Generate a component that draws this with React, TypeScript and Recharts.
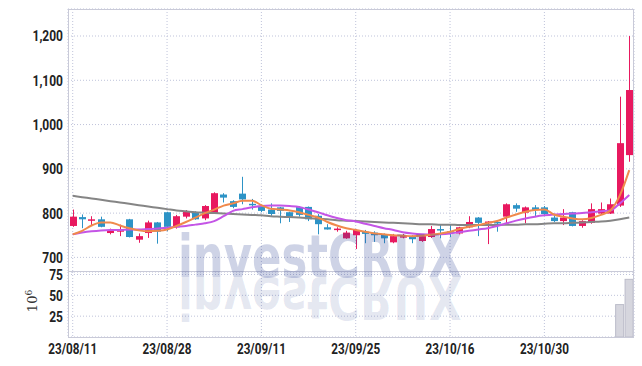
import React from "react";
import { ComposedChart, Bar, Line, XAxis, YAxis, CartesianGrid } from "recharts";

const dates = [
  "23/08/11", "23/08/14", "23/08/16", "23/08/17", "23/08/18", "23/08/21", "23/08/22", "23/08/23", "23/08/24", "23/08/25",
  "23/08/28", "23/08/29", "23/08/30", "23/08/31", "23/09/01", "23/09/04", "23/09/05", "23/09/06", "23/09/07", "23/09/08",
  "23/09/11", "23/09/12", "23/09/13", "23/09/14", "23/09/15", "23/09/18", "23/09/19", "23/09/20", "23/09/21", "23/09/22",
  "23/09/25", "23/09/26", "23/09/27", "23/10/04", "23/10/05", "23/10/06", "23/10/10", "23/10/11", "23/10/12", "23/10/13",
  "23/10/16", "23/10/17", "23/10/18", "23/10/19", "23/10/20", "23/10/23", "23/10/24", "23/10/25", "23/10/26", "23/10/27",
  "23/10/30", "23/10/31", "23/11/01", "23/11/02", "23/11/03", "23/11/06", "23/11/07", "23/11/08", "23/11/09", "23/11/10",
];

const opens = [
  771, 791, 783, 786, 755, 758, 786, 740, 755, 779,
  802, 768, 792, 802, 788, 800, 842, 827, 844, 821,
  814, 808, 813, 802, 814, 814, 794, 768, 763, 743,
  750, 758, 756, 752, 734, 745, 746, 737, 746, 764,
  759, 754, 768, 790, 777, 780, 792, 818, 801, 813,
  813, 790, 782, 802, 771, 778, 799, 799, 817, 931,
];
const highs = [
  808, 797, 793, 792, 765, 774, 787, 754, 783, 780,
  803, 796, 807, 804, 818, 847, 845, 829, 882, 832,
  818, 822, 814, 803, 816, 815, 798, 775, 768, 760,
  763, 762, 759, 754, 753, 753, 750, 750, 771, 773,
  773, 769, 793, 791, 782, 784, 822, 822, 815, 818,
  816, 795, 809, 803, 784, 822, 824, 833, 1063, 1200,
];
const lows = [
  769, 766, 771, 768, 752, 748, 745, 733, 744, 731,
  759, 765, 788, 785, 784, 798, 824, 811, 820, 808,
  802, 794, 777, 780, 792, 782, 752, 763, 758, 742,
  719, 732, 735, 732, 732, 743, 732, 735, 744, 743,
  746, 752, 766, 748, 730, 758, 777, 803, 777, 792,
  795, 780, 773, 770, 767, 776, 798, 798, 814, 916,
];
const closes = [
  792, 786, 786, 769, 760, 764, 746, 748, 779, 758,
  769, 793, 803, 786, 816, 845, 835, 814, 831, 820,
  805, 798, 805, 792, 796, 786, 775, 763, 765, 756,
  762, 753, 750, 743, 748, 748, 741, 748, 764, 763,
  756, 768, 780, 778, 781, 777, 820, 810, 813, 807,
  798, 782, 790, 771, 782, 809, 809, 820, 958, 1078,
];

const ma5 = [
  752, 760, 772, 779, 779, 772, 766, 761, 759, 760,
  763, 771, 780, 790, 800, 808, 817, 822, 828, 828,
  818, 810, 808, 806, 802, 796, 790, 780, 772, 766,
  762, 758, 754, 752, 750, 749, 748, 749, 751, 754,
  758, 764, 769, 773, 778, 782, 790, 797, 803, 807,
  808, 797, 792, 788, 786, 789, 796, 806, 840, 897,
];
const ma20 = [
  752, 756, 759, 761, 762, 762, 763, 763, 764, 765,
  767, 769, 771, 774, 777, 782, 793, 805, 809, 813,
  816, 817, 817, 816, 814, 808, 802, 795, 789, 784,
  781, 776, 771, 766, 762, 757, 754, 752, 751, 752,
  754, 757, 760, 763, 766, 771, 777, 783, 788, 792,
  795, 797, 798, 799, 800, 802, 804, 806, 822, 841,
];
const ma60 = [
  839, 836, 833, 830, 827, 824, 821, 818, 815, 812,
  809, 806, 804, 802, 801, 800, 799, 798, 797, 796,
  795, 793, 792, 791, 790, 789, 787, 786, 784, 783,
  782, 781, 780, 779, 778, 777, 776, 775, 775, 774,
  774, 773, 773, 773, 773, 773, 774, 774, 775, 775,
  776, 777, 777, 778, 779, 780, 781, 783, 786, 790,
];
// millions of shares
const volumes = [
  0.3, 0.3, 0.2, 0.3, 0.2, 0.2, 0.3, 0.2, 0.3, 0.2,
  0.3, 0.3, 0.3, 0.2, 0.4, 0.5, 0.4, 0.3, 0.5, 0.3,
  0.2, 0.2, 0.3, 0.2, 0.2, 0.2, 0.3, 0.2, 0.1, 0.2,
  0.2, 0.2, 0.2, 0.2, 0.2, 0.1, 0.2, 0.2, 0.2, 0.2,
  0.2, 0.2, 0.3, 0.2, 0.2, 0.2, 0.4, 0.2, 0.2, 0.2,
  0.2, 0.2, 0.2, 0.2, 0.2, 0.3, 0.3, 0.4, 39.5, 69.8,
];

const priceTicks = [700, 800, 900, 1000, 1100, 1200];
const volumeTicks = [25, 50, 75];
const dateTicks = ["23/08/11", "23/08/28", "23/09/11", "23/09/25", "23/10/16", "23/10/30"];

const UP = "#e8195f";
const DOWN = "#2d93c6";
const GRID = "#bfc3da";

const data = dates.map((date, i) => ({
  date,
  open: opens[i],
  high: highs[i],
  low: lows[i],
  close: closes[i],
  range: [lows[i], highs[i]],
  ma5: ma5[i],
  ma20: ma20[i],
  ma60: ma60[i],
  volume: volumes[i],
}));

function Candle(props: any) {
  const { x, y, width, height, payload } = props;
  const { open, close, high, low } = payload;
  const color = close >= open ? UP : DOWN;
  const ratio = height / (high - low);
  const cx = Math.round(x + width / 2) + 0.5;
  const yOpen = y + (high - open) * ratio;
  const yClose = y + (high - close) * ratio;
  const top = Math.min(yOpen, yClose);
  const h = Math.max(Math.abs(yOpen - yClose), 1.5);
  return (
    <g>
      <line x1={cx} x2={cx} y1={y} y2={y + height} stroke={color} strokeWidth={1} />
      <rect x={cx - 3.5} y={top} width={7} height={h} fill={color} />
    </g>
  );
}

function VolumeBar(props: any) {
  const { x, y, width, height } = props;
  if (!height || height < 2) return null;
  return <rect x={x + 0.5} y={y + 0.5} width={width - 1} height={height - 0.5} fill="#d6d6de" stroke="#bcbdca" strokeWidth={1} />;
}

function ValueTick(props: any) {
  const { x, y, payload } = props;
  return (
    <g transform={`translate(${x},${y}) scale(0.8,1)`}>
      <text textAnchor="end" dy="0.36em" fontFamily="Roboto" fontWeight={700} fontSize={15} fill="#222">
        {Number(payload.value).toLocaleString("en-US")}
      </text>
    </g>
  );
}

function DateTick(props: any) {
  const { x, y, payload } = props;
  return (
    <g transform={`translate(${x},${y}) scale(0.78,1)`}>
      <text textAnchor="middle" dy="0.72em" fontFamily="Roboto" fontWeight={700} fontSize={15} fill="#222">
        {payload.value}
      </text>
    </g>
  );
}

export default function App() {
  return (
    <div style={{ position: "absolute", left: 0, top: 0, width: 642, height: 366, background: "#fff", fontFamily: "Roboto" }}>
      <div style={{ position: "absolute", left: 0, top: 0 }}>
        <ComposedChart width={642} height={272} data={data} margin={{ top: 9, right: 8, bottom: 0, left: 0 }}>
          <CartesianGrid stroke={GRID} strokeDasharray="1 2" />
          <XAxis dataKey="date" hide ticks={dateTicks} interval={0} />
          <YAxis
            domain={[667, 1261]}
            ticks={priceTicks}
            interval={0}
            width={68}
            axisLine={false}
            tickLine={false}
            tickSize={0}
            tickMargin={5}
            tick={<ValueTick />}
            allowDataOverflow
          />
          <Bar dataKey="range" shape={(p: any) => <Candle {...p} />} barSize={7} isAnimationActive={false} />
          <Line dataKey="ma60" type="monotone" stroke="#858585" strokeWidth={2} dot={false} isAnimationActive={false} />
          <Line dataKey="ma20" type="monotone" stroke="#c455e6" strokeWidth={2} dot={false} isAnimationActive={false} />
          <Line dataKey="ma5" type="monotone" stroke="#f08a4c" strokeWidth={2} dot={false} isAnimationActive={false} />
        </ComposedChart>
      </div>
      <div style={{ position: "absolute", left: 0, top: 262 }}>
        <ComposedChart width={642} height={104} data={data} margin={{ top: 10, right: 8, bottom: 0, left: 0 }} barCategoryGap={0}>
          <CartesianGrid stroke={GRID} strokeDasharray="1 2" />
          <XAxis
            dataKey="date"
            ticks={dateTicks}
            interval={0}
            height={29}
            axisLine={false}
            tickLine={false}
            tickSize={0}
            tickMargin={6}
            tick={<DateTick />}
          />
          <YAxis
            domain={[0, 78]}
            ticks={volumeTicks}
            interval={0}
            width={68}
            axisLine={false}
            tickLine={false}
            tickSize={0}
            tickMargin={5}
            tick={<ValueTick />}
            allowDataOverflow
          />
          <Bar dataKey="volume" shape={(p: any) => <VolumeBar {...p} />} isAnimationActive={false} />
        </ComposedChart>
      </div>
      <div
        style={{
          position: "absolute", left: 68, top: 9, width: 566, height: 329,
          border: "1px solid #c9cad8", boxSizing: "border-box", pointerEvents: "none",
        }}
      />
      <div style={{ position: "absolute", left: 68, top: 271, width: 566, height: 1, background: "#c9cad8" }} />
      <svg width={642} height={366} style={{ position: "absolute", left: 0, top: 0, pointerEvents: "none" }}>
        <text
          x={178} y={277} textLength={284} lengthAdjust="spacingAndGlyphs"
          fontFamily="DejaVu Sans" fontWeight={700} fontSize={58} fill="rgba(50,72,150,0.24)"
        >
          investCRUX
        </text>
        <g transform="translate(0,554) scale(1,-1)">
          <text
            x={178} y={277} textLength={284} lengthAdjust="spacingAndGlyphs"
            fontFamily="DejaVu Sans" fontWeight={700} fontSize={58} fill="rgba(50,72,150,0.13)"
          >
            investCRUX
          </text>
        </g>
        <text transform="translate(37,301) rotate(-90)" textAnchor="middle" fontFamily="DejaVu Serif" fontSize={13} fill="#333">
          10<tspan dy={-5} fontSize={9}>6</tspan>
        </text>
      </svg>
    </div>
  );
}
